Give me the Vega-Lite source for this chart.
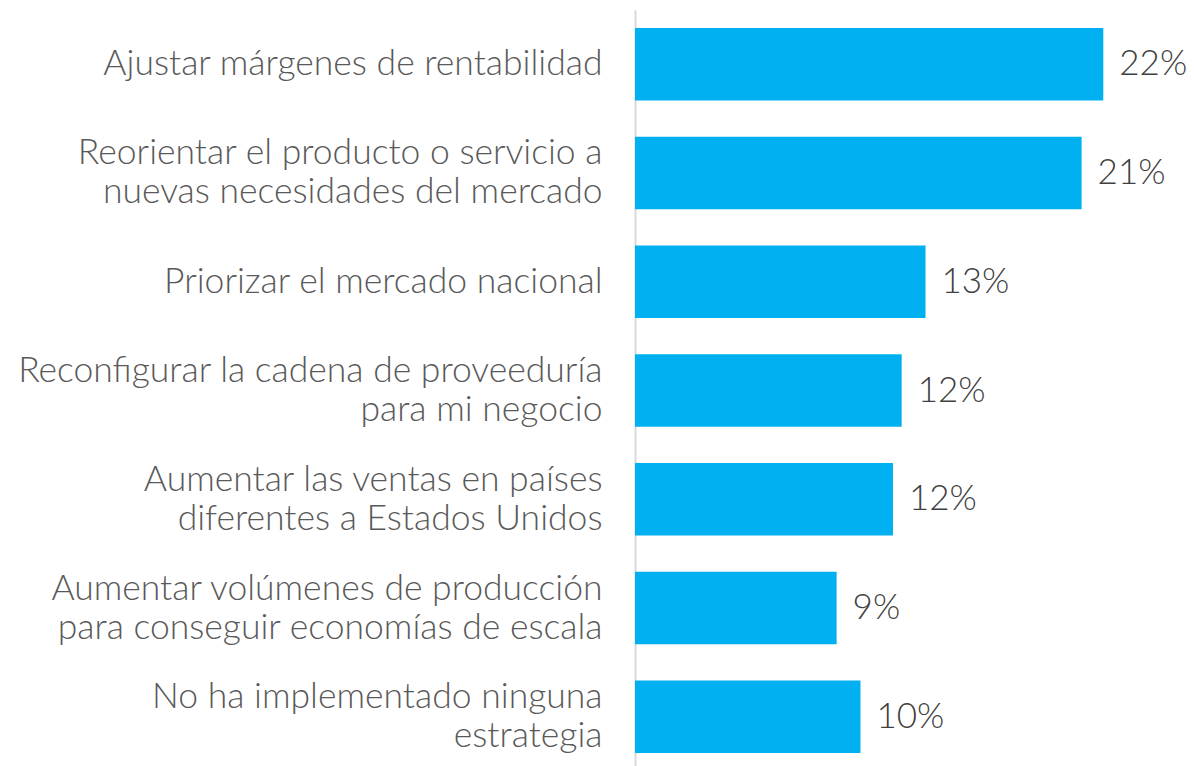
{
  "$schema": "https://vega.github.io/schema/vega-lite/v6.json",
  "width": 542,
  "height": 761,
  "autosize": "none",
  "padding": {"left": 635, "top": 10, "right": 17, "bottom": 0},
  "background": "white",
  "config": {"view": {"stroke": null}, "font": "Lato"},
  "data": {
    "values": [
      {"estrategia": "Ajustar márgenes de rentabilidad", "valor": 0.216},
      {"estrategia": "Reorientar el producto o servicio a|nuevas necesidades del mercado", "valor": 0.206},
      {"estrategia": "Priorizar el mercado nacional", "valor": 0.134},
      {"estrategia": "Reconfigurar la cadena de proveeduría|para mi negocio", "valor": 0.123},
      {"estrategia": "Aumentar las ventas en países|diferentes a Estados Unidos", "valor": 0.119},
      {"estrategia": "Aumentar volúmenes de producción|para conseguir economías de escala", "valor": 0.093},
      {"estrategia": "No ha implementado ninguna|estrategia", "valor": 0.104}
    ]
  },
  "encoding": {
    "y": {
      "field": "estrategia",
      "type": "nominal",
      "sort": null,
      "scale": {"paddingInner": 0.334, "paddingOuter": 0.165},
      "axis": {
        "title": null,
        "labelExpr": "length(split(datum.label, '|')) > 1 ? [split(datum.label, '|')[0], pad(split(datum.label, '|')[1], length(split(datum.label, '|')[1]) + max(0, round((length(split(datum.label, '|')[0]) - length(split(datum.label, '|')[1])) * 1.2)), '\u2002')] : datum.label",
        "labelOffset": {"expr": "indexof(datum.value, '|') >= 0 ? -19.5 : 0"},
        "labelFont": "Lato",
        "labelFontSize": 35.5,
        "labelFontWeight": 300,
        "labelColor": "#595959",
        "labelPadding": 33,
        "labelLineHeight": 39,
        "labelLimit": 700,
        "ticks": false,
        "domainColor": "#D9D9D9",
        "domainWidth": 2
      }
    },
    "x": {
      "field": "valor",
      "type": "quantitative",
      "scale": {"domain": [0, 0.25]},
      "axis": null
    }
  },
  "layer": [
    {"mark": {"type": "bar", "color": "#00B0F0"}},
    {
      "mark": {"type": "text", "align": "left", "baseline": "middle", "dx": 16, "font": "Lato", "fontSize": 35, "fontWeight": 300, "color": "#404040"},
      "encoding": {"text": {"field": "valor", "type": "quantitative", "format": ".0%"}}
    }
  ]
}
